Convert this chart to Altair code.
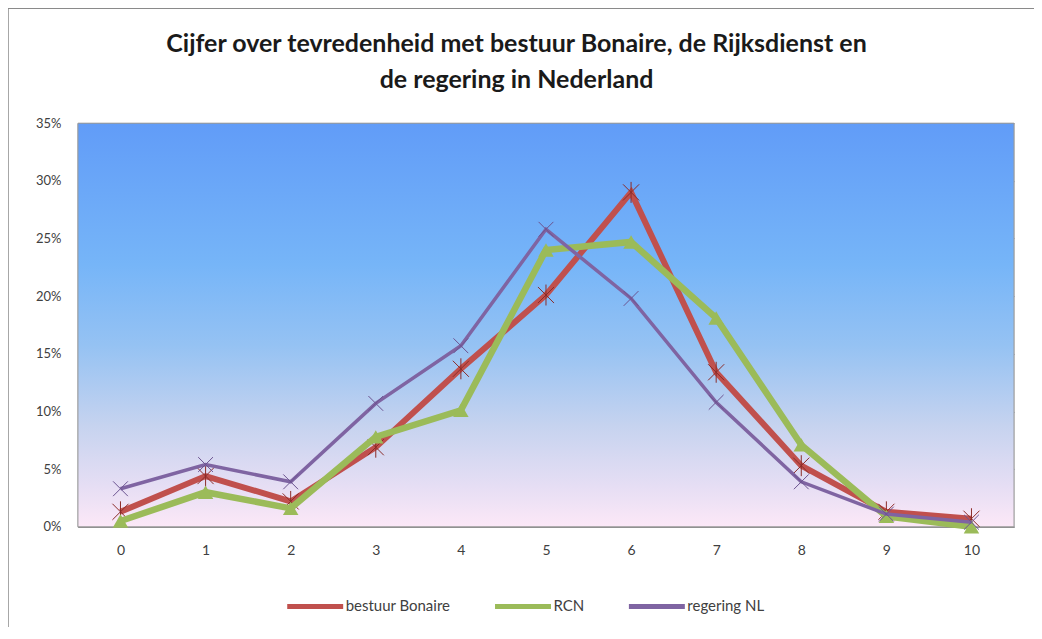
import altair as alt
import pandas as pd

scores = [0, 1, 2, 3, 4, 5, 6, 7, 8, 9, 10]
bestuur_bonaire = [0.013, 0.044, 0.022, 0.069, 0.137, 0.201, 0.290, 0.134, 0.053, 0.013, 0.007]
rcn = [0.005, 0.030, 0.016, 0.078, 0.101, 0.240, 0.247, 0.181, 0.071, 0.009, 0.000]
regering_nl = [0.033, 0.054, 0.039, 0.107, 0.157, 0.258, 0.198, 0.108, 0.039, 0.011, 0.004]

series_names = ["bestuur Bonaire", "RCN", "regering NL"]
series_colors = ["#C0504D", "#9BBB59", "#7F64A2"]
series_widths = [6, 6.5, 3.5]
y_ticks = [0, 0.05, 0.10, 0.15, 0.20, 0.25, 0.30, 0.35]
title_lines = ["Cijfer over tevredenheid met bestuur Bonaire, de Rijksdienst en",
               "de regering in Nederland"]

rows = []
for name, vals in zip(series_names, [bestuur_bonaire, rcn, regering_nl]):
    for s, v in zip(scores, vals):
        rows.append({"series": name, "score": str(s), "score_num": s, "value": v})
df = pd.DataFrame(rows)

W, H = 937, 404
font = "Lato"

x_enc = alt.X("score:N", sort=[str(s) for s in scores],
              scale=alt.Scale(type="point", padding=0.5),
              axis=alt.Axis(title=None, labelAngle=0, labelFontSize=14, labelFont=font,
                            labelColor="#404040", labelPadding=17, ticks=False,
                            domain=True, domainColor="#8E8E8E", domainWidth=1.5, grid=False))
y_enc = alt.Y("value:Q", scale=alt.Scale(domain=[0, 0.35], nice=False),
              axis=alt.Axis(title=None, values=y_ticks, format=".0%", labelFontSize=13,
                            labelFont=font, labelColor="#404040", labelPadding=17,
                            ticks=False, domain=True, domainColor="#8E8E8E", domainWidth=1.5,
                            grid=True, gridColor="#7C8596", gridWidth=1))

one = pd.DataFrame({"a": [0]})

bg = alt.Chart(one).mark_rect(
    fill=alt.LinearGradient(
        gradient="linear", x1=0, x2=0, y1=0, y2=1,
        stops=[alt.GradientStop(offset=0, color="#619CF8"),
               alt.GradientStop(offset=0.35, color="#76B5F8"),
               alt.GradientStop(offset=0.55, color="#95C2F3"),
               alt.GradientStop(offset=0.75, color="#C6D3EF"),
               alt.GradientStop(offset=0.9, color="#E6DEF4"),
               alt.GradientStop(offset=1, color="#FCE8F7")]),
    stroke="#9A9A9A", strokeWidth=1
).encode(x=alt.value(0), x2=alt.value(W), y=alt.value(0), y2=alt.value(H))

border = alt.Chart(one).mark_rect(
    fillOpacity=0, stroke="#8A8A8A", strokeWidth=1.5, clip=False
).encode(x=alt.value(-70), x2=alt.value(W + 60), y=alt.value(-115), y2=alt.value(H + 130))

title = alt.Chart(one).mark_text(
    text=title_lines, font=font, fontSize=25, fontWeight="bold", color="#1A1A1A",
    lineHeight=36, align="center", baseline="middle"
).encode(x=alt.value(439), y=alt.value(-79))

color_scale = alt.Scale(domain=series_names, range=series_colors)
legend = alt.Legend(orient="none", legendX=207, legendY=453,
                    direction="horizontal", title=None,
                    symbolType="stroke", symbolSize=3136,
                    symbolStrokeWidth=5, labelFontSize=15,
                    labelFont=font, labelColor="#404040",
                    columnPadding=34, labelOffset=0)

line_layers = []
for name, w in zip(series_names, series_widths):
    line_layers.append(
        alt.Chart(df[df.series == name]).mark_line(strokeWidth=w, strokeJoin="miter").encode(
            x=x_enc, y=y_enc,
            color=alt.Color("series:N", scale=color_scale, sort=series_names, legend=legend),
            order=alt.Order("score_num:Q"),
        )
    )

star_path = "M-1,-1L1,1M-1,1L1,-1M0,-1.3L0,1.3"
x_path = "M-1,-1L1,1M-1,1L1,-1"

red_pts = alt.Chart(df[df.series == "bestuur Bonaire"]).mark_point(
    shape=star_path, filled=False, size=260, stroke="#8B2B28", strokeWidth=1, opacity=1
).encode(x=x_enc, y=y_enc)
green_pts = alt.Chart(df[df.series == "RCN"]).mark_point(
    shape="triangle-up", filled=True, size=240, fill="#9BBB59", opacity=1
).encode(x=x_enc, y=y_enc)
purple_pts = alt.Chart(df[df.series == "regering NL"]).mark_point(
    shape=x_path, filled=False, size=220, stroke="#6A5290", strokeWidth=1, opacity=1
).encode(x=x_enc, y=y_enc)

chart = alt.layer(border, bg, title, line_layers[0], red_pts, line_layers[1], green_pts,
                  line_layers[2], purple_pts).properties(
    width=W, height=H,
    padding={"left": 70, "top": 115, "right": 20, "bottom": 100},
    autosize=alt.AutoSizeParams(type="none"),
).configure_view(stroke=None).configure(background="white")

chart.save("out.html", embed_options={"renderer": "svg", "actions": False})
